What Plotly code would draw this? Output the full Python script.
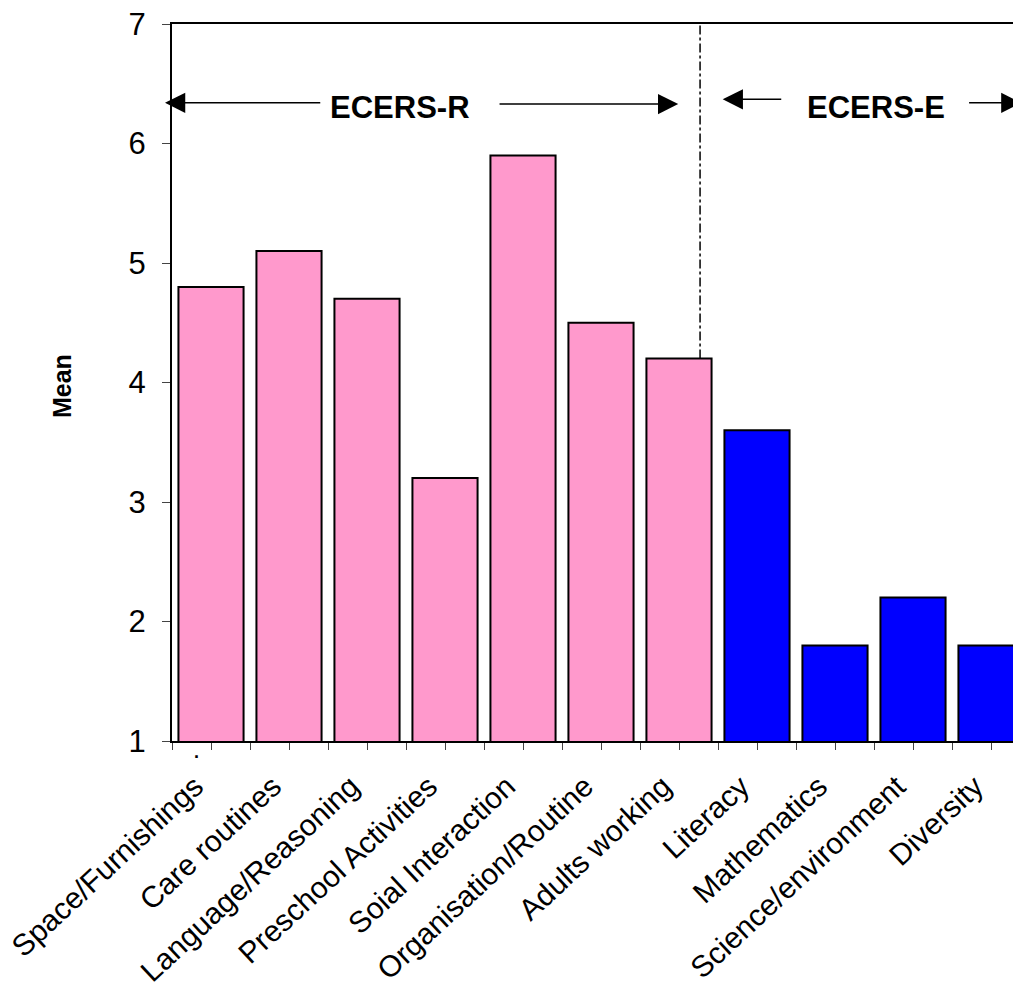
import plotly.graph_objects as go

categories = ["Space/Furnishings", "Care routines", "Language/Reasoning",
              "Preschool Activities", "Soial Interaction", "Organisation/Routine",
              "Adults working", "Literacy", "Mathematics", "Science/environment",
              "Diversity"]
means = [4.8, 5.1, 4.7, 3.2, 5.9, 4.5, 4.2, 3.6, 1.8, 2.2, 1.8]
scale_group = ["R", "R", "R", "R", "R", "R", "R", "E", "E", "E", "E"]
y_ticks = [1, 2, 3, 4, 5, 6, 7]

group_colors = {"R": "#FF99CC", "E": "#0000FF"}
FONT = "Arial, 'Liberation Sans', sans-serif"

xpos = list(range(len(categories)))
colors = [group_colors[g] for g in scale_group]

fig = go.Figure()
fig.add_trace(go.Bar(
    x=xpos, y=means,
    marker=dict(color=colors, line=dict(color="black", width=2)),
    width=0.835,
    showlegend=False,
))

# separator line between ECERS-R and ECERS-E
sep_x = 6.27
fig.add_shape(type="line", xref="x", yref="y", x0=sep_x, x1=sep_x,
              y0=means[6], y1=7, line=dict(color="black", width=1.5, dash="dashdot"))

arrows = [
    # (tip_x, tail_x, y)
    (-0.59, 1.42, 6.34),
    (5.99, 3.68, 6.33),
    (6.56, 7.33, 6.37),
    (10.39, 9.70, 6.34),
]
for tip, tail, yy in arrows:
    fig.add_annotation(x=tip, y=yy, ax=tail, ay=yy, xref="x", yref="y",
                       axref="x", ayref="y", text="", showarrow=True,
                       arrowhead=2, arrowsize=2.7, arrowwidth=1.5, arrowcolor="black")

fig.add_annotation(x=2.42, y=6.305, xref="x", yref="y", text="<b>ECERS-R</b>",
                   showarrow=False, font=dict(family=FONT, size=31, color="black"))
fig.add_annotation(x=8.53, y=6.305, xref="x", yref="y", text="<b>ECERS-E</b>",
                   showarrow=False, font=dict(family=FONT, size=31, color="black"))

# y-axis title
fig.add_annotation(x=(62 - 172) / 849, xref="paper", xanchor="center",
                   y=3.97, yref="y", yanchor="middle",
                   text="<b>Mean</b>", textangle=-90, showarrow=False,
                   font=dict(family=FONT, size=25, color="black"))

# stray dot under first tick
fig.add_annotation(x=-0.18, xref="x", y=-0.0153, yref="paper", text="<b>.</b>",
                   xanchor="center", yanchor="middle",
                   showarrow=False, font=dict(family=FONT, size=18, color="black"))

fig.update_layout(
    width=1013, height=984,
    margin=dict(l=164, r=0, t=16, b=251, autoexpand=False),
    paper_bgcolor="white", plot_bgcolor="white",
    font=dict(family=FONT, color="black"),
    xaxis=dict(
        range=[-0.5, -0.5 + 849 / 78], automargin=False,
        tickmode="array", tickvals=xpos, ticktext=categories,
        tickangle=-43, tickfont=dict(size=30, family=FONT, color="black"),
        ticklabelshift=-16, ticklabelstandoff=7, ticklabeloverflow="allow",
        ticks="outside", ticklen=7, tickcolor="#444", tickwidth=1,
        minor=dict(tickmode="linear", tick0=-0.5, dtick=1, ticks="outside",
                   ticklen=7, tickcolor="#444", tickwidth=1),
        showline=True, linecolor="black", linewidth=2, mirror=True,
        showgrid=False, zeroline=False,
    ),
    yaxis=dict(
        range=[1, 7], tickmode="array", tickvals=y_ticks, automargin=False,
        tickfont=dict(size=31, family=FONT, color="black"),
        ticks="outside", ticklen=8, tickcolor="#444", tickwidth=1,
        ticklabelstandoff=10, ticklabeloverflow="allow",
        showline=True, linecolor="black", linewidth=2,
        showgrid=False, zeroline=False,
    ),
)

fig.write_html("out.html")
